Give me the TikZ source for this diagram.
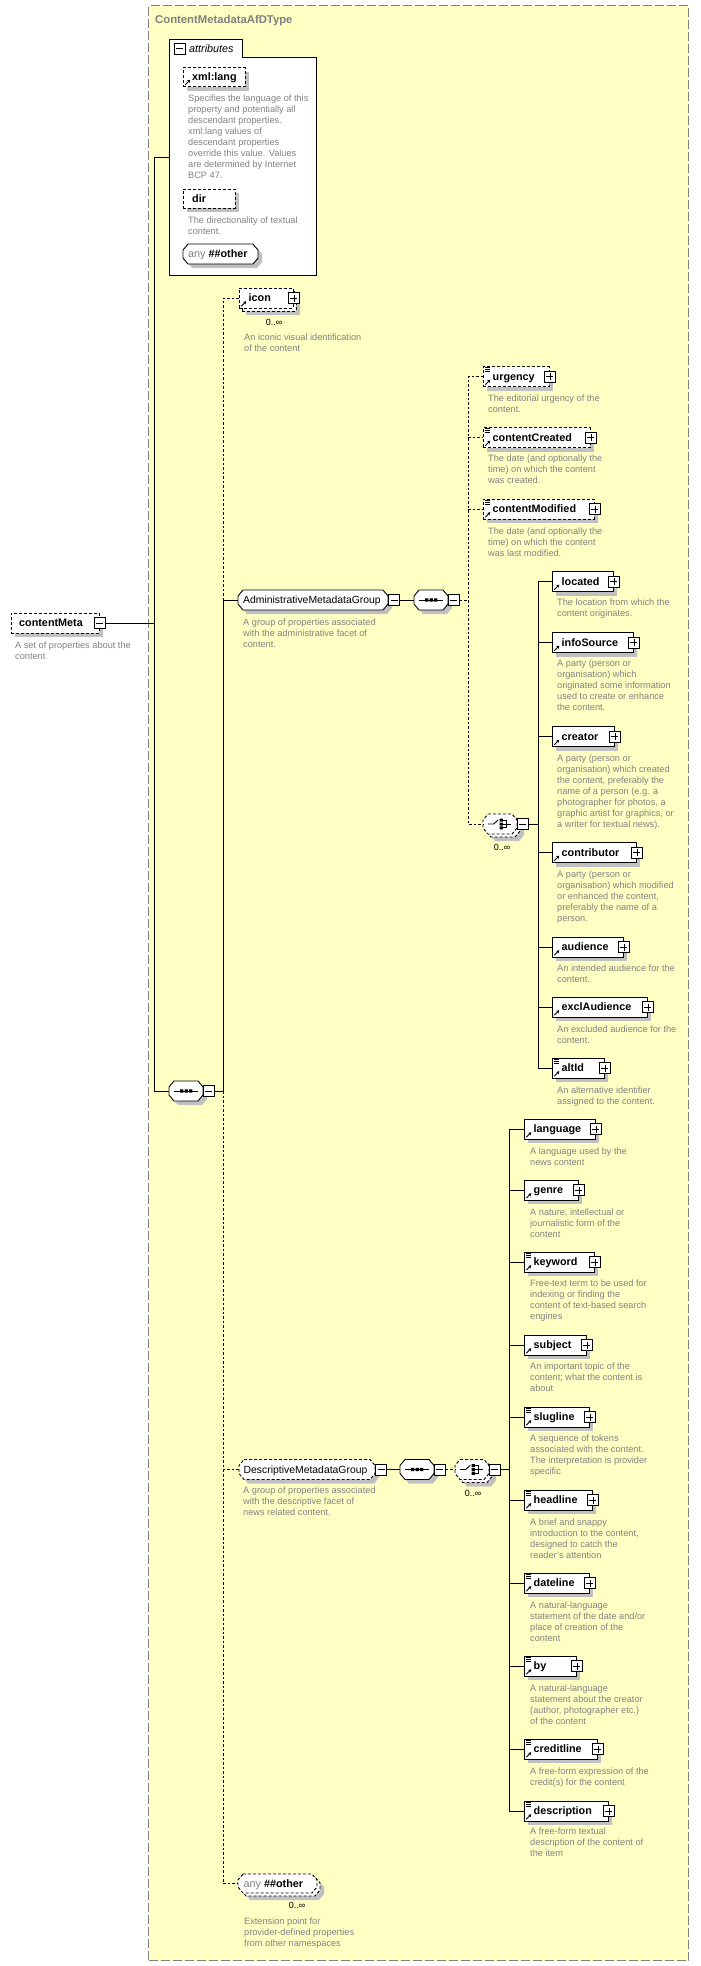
\documentclass[tikz,border=0pt]{standalone}
\usepackage{fontspec}
\setmainfont{Liberation Sans}
\usetikzlibrary{shadows,arrows.meta,calc}
\definecolor{bgY}{RGB}{255,255,196}
\definecolor{dgr}{RGB}{128,128,128}
\definecolor{shd}{RGB}{192,192,192}
\definecolor{tgr}{RGB}{130,130,130}
\newcommand{\refarrow}{\draw[solid,line width=.9pt,-{Stealth[length=3pt,width=3.4pt]}] ([shift={(1.8pt,1.8pt)}]path picture bounding box.south west) -- ++(5pt,5pt);}
\newcommand{\simplines}{\draw[solid,line width=.7pt] ([shift={(1.5pt,-1.3pt)}]path picture bounding box.north west) -- ++(5.5pt,0pt) ([shift={(1.5pt,-3.3pt)}]path picture bounding box.north west) -- ++(5.5pt,0pt) ([shift={(1.5pt,-5.3pt)}]path picture bounding box.north west) -- ++(5.5pt,0pt);}
\tikzset{
  sh/.style={drop shadow={shadow xshift=4pt,shadow yshift=-4pt,fill=shd,opacity=1}},
  opt/.style={dash pattern=on 3pt off 2pt},
  elbox/.style={draw,fill=white,line width=.9pt,minimum height=20pt,inner sep=0pt,anchor=west},
  arr/.style={path picture={\refarrow}},
  arrs/.style={path picture={\refarrow\simplines}},
  pmb/.style={draw,solid,line width=1pt,fill=white,minimum size=11pt,inner sep=0pt,shape=rectangle},
  pmplus/.style={pmb,path picture={\draw[line width=.8pt] ([xshift=-3.5pt]path picture bounding box.center) -- ([xshift=3.5pt]path picture bounding box.center) ([yshift=-3.5pt]path picture bounding box.center) -- ([yshift=3.5pt]path picture bounding box.center);}},
  pmminus/.style={pmb,path picture={\draw[line width=.8pt] ([xshift=-3.5pt]path picture bounding box.center) -- ([xshift=3.5pt]path picture bounding box.center);}},
  octs/.style={draw,fill=white,line width=.9pt},
  lbl/.style={font=\fontsize{10.8}{13}\selectfont\bfseries,anchor=base west,inner sep=0pt},
  glbl/.style={font=\fontsize{10.4}{13}\selectfont,anchor=base west,inner sep=0pt},
  desc/.style={font=\fontsize{9.2}{11}\selectfont,text=tgr,align=left,anchor=north west,inner sep=0pt,yshift=5.5pt},
  occ/.style={font=\fontsize{9}{11}\selectfont,inner sep=0pt},
  con/.style={line width=.9pt},
  dcon/.style={line width=.9pt,dash pattern=on 2.5pt off 2pt},
}
% element box with label and plus box
\newcommand{\mkel}[6]{%
  \node[elbox,sh,#2,minimum width=#5pt] (#1) at (#3,#4) {};
  \node[lbl] (#1-l) at ([shift={(9.5,3.8)}]#1.west) {#6};
  \node[pmplus] (#1-p) at (#1.east) {};}
% chamfered (octagonal) shape with an invisible node of the same size
\newcommand{\octo}[6]{%
  \path[octs,#2] ({#3+5},{#4-#6/2}) -- ({#3+#5-5},{#4-#6/2}) -- ({#3+#5},{#4-#6/2+6}) -- ({#3+#5},{#4+#6/2-6}) -- ({#3+#5-5},{#4+#6/2}) -- ({#3+5},{#4+#6/2}) -- (#3,{#4+#6/2-6}) -- (#3,{#4-#6/2+6}) -- cycle;
  \node[anchor=west,minimum width=#5pt,minimum height=#6pt,inner sep=0pt] (#1) at (#3,#4) {};}
\newcommand{\seqsym}[1]{\begin{scope}[shift={(#1.center)}]
  \draw[line width=.9pt] (-12,0) -- (12,0);
  \fill (-6.2,-1.7) rectangle (-2.8,1.7) (-1.7,-1.7) rectangle (1.7,1.7) (2.8,-1.7) rectangle (6.2,1.7);
  \end{scope}}
\newcommand{\chosym}[1]{\begin{scope}[shift={(#1.center)}]
  \draw[line width=.9pt] (-12,0) -- (-6.5,0) -- (-2,-4.2);
  \fill (-0.5,-5.3) rectangle (2.6,-2.4) (-0.5,-1.5) rectangle (2.6,1.5) (-0.5,2.4) rectangle (2.6,5.3);
  \draw[line width=.9pt] (2.6,-3.8) -- (6.5,-3.8) -- (6.5,3.8) -- (2.6,3.8) (2.6,0) -- (11,0);
  \end{scope}}
\newcommand{\mkdesc}[4]{\node[desc] (#1) at (#2,#3) {\strut #4};}
\begin{document}
\begin{tikzpicture}[x=1pt,y=-1pt]
\useasboundingbox (0,0) rectangle (701,1966);
\fill[white] (0,0) rectangle (701,1966);
% complex type box
\node[draw=dgr,fill=bgY,line width=1pt,dash pattern=on 9pt off 3pt,minimum width=540pt,minimum height=1955pt,anchor=north west,inner sep=0pt] (type) at (148,5) {};
\node[font=\fontsize{11.3}{13}\selectfont\bfseries,text=dgr,anchor=base west,inner sep=0pt] (title) at (155,23) {ContentMetadataAfDType};
% attributes
\node[draw,fill=white,line width=.9pt,minimum width=147pt,minimum height=218pt,anchor=north west,inner sep=0pt] (attrs) at (169,57) {};
\node[draw,fill=white,line width=.9pt,minimum width=73pt,minimum height=18pt,anchor=north west,inner sep=0pt] (attrtab) at (169,39) {};
\draw[white,line width=1.4pt] ([xshift=.7pt]attrtab.south west) -- ([xshift=-.7pt]attrtab.south east);
\node[pmminus] (attrtab-p) at (179.5,48.5) {};
\node[font=\fontsize{10.8}{13}\selectfont\itshape,anchor=base west,inner sep=0pt] (attrtab-l) at (189,52.5) {attributes};
\node[elbox,sh,opt,arr,minimum width=62pt,minimum height=19pt] (xl) at (183,77) {};
\node[lbl] (xl-l) at ([shift={(9,3.8)}]xl.west) {xml:lang};
\mkdesc{xl-d}{188}{99}{Specifies the language of this\\property and potentially all\\descendant properties.\\xml:lang values of\\descendant properties\\override this value. Values\\are determined by Internet\\BCP 47.}
\node[elbox,sh,opt,minimum width=52pt,minimum height=19pt] (dir) at (183,198.5) {};
\node[lbl] (dir-l) at ([shift={(9,3.8)}]dir.west) {dir};
\mkdesc{dir-d}{188}{221}{The directionality of textual\\content.}
\octo{aany}{sh}{183}{254}{75}{20}
\node[anchor=base west,inner sep=0pt,font=\fontsize{10.8}{13}\selectfont] (aany-l) at ([shift={(5,3.8)}]aany.west) {\textcolor{dgr}{any} \textbf{\#\#other}};
% root element
\node[elbox,sh,opt,minimum width=88pt] (cm) at (11,623) {};
\node[lbl] (cm-l) at ([shift={(8,3.8)}]cm.west) {contentMeta};
\node[pmminus] (cm-p) at (cm.east) {};
\mkdesc{cm-d}{15}{646}{A set of properties about the\\content}
% main sequence
\octo{seq1}{sh}{169}{1091}{34}{20}
\seqsym{seq1}
\node[pmminus] (seq1-p) at ([xshift=5.5pt]seq1.east) {};
% icon (repeatable: stacked box)
\node[elbox,sh,opt,minimum width=54pt] (icon-b) at (242,301) {};
\node[elbox,opt,arr,minimum width=54pt] (icon) at (239,298) {};
\node[lbl] (icon-l) at ([shift={(9.5,3.8)}]icon.west) {icon};
\node[pmplus] (icon-p) at (icon.east) {};
\node[occ] (icon-o) at (274,322) {0..∞};
\mkdesc{icon-d}{244}{338}{An iconic visual identification\\of the content}
% administrative group
\octo{adm}{sh}{238}{600}{150}{20}
\node[glbl] (adm-l) at ([shift={(5,3.8)}]adm.west) {AdministrativeMetadataGroup};
\node[pmminus] (adm-p) at ([xshift=6pt]adm.east) {};
\mkdesc{adm-d}{243}{623}{A group of properties associated\\with the administrative facet of\\content.}
\octo{seq2}{sh}{414}{600}{34}{20}
\seqsym{seq2}
\node[pmminus] (seq2-p) at ([xshift=5.5pt]seq2.east) {};
\mkel{urg}{opt,arrs}{483}{376.5}{66}{urgency}
\mkdesc{urg-d}{488}{399}{The editorial urgency of the\\content.}
\mkel{crt}{opt,arrs}{483}{437.5}{107}{contentCreated}
\mkdesc{crt-d}{488}{459}{The date (and optionally the\\time) on which the content\\was created.}
\mkel{mod}{opt,arrs}{483}{509}{111}{contentModified}
\mkdesc{mod-d}{488}{532}{The date (and optionally the\\time) on which the content\\was last modified.}
\octo{ch1-b}{sh,opt}{486}{827}{34}{20}
\octo{ch1}{opt}{483}{824}{34}{20}
\chosym{ch1}
\node[pmminus] (ch1-p) at ([xshift=5.5pt]ch1.east) {};
\node[occ] (ch1-o) at (502,847) {0..∞};
\mkel{loc}{arr}{552}{581.5}{61}{located}
\mkdesc{loc-d}{557}{603}{The location from which the\\content originates.}
\mkel{inf}{arr}{552}{642.5}{81}{infoSource}
\mkdesc{inf-d}{557}{664}{A party (person or\\organisation) which\\originated some information\\used to create or enhance\\the content.}
\mkel{cre}{arr}{552}{736.5}{62}{creator}
\mkdesc{cre-d}{557}{759}{A party (person or\\organisation) which created\\the content, preferably the\\name of a person (e.g. a\\photographer for photos, a\\graphic artist for graphics, or\\a writer for textual news).}
\mkel{con}{arr}{552}{852.5}{84}{contributor}
\mkdesc{con-d}{557}{875}{A party (person or\\organisation) which modified\\or enhanced the content,\\preferably the name of a\\person.}
\mkel{aud}{arr}{552}{947}{71}{audience}
\mkdesc{aud-d}{557}{969}{An intended audience for the\\content.}
\mkel{exa}{arr}{552}{1007}{95}{exclAudience}
\mkdesc{exa-d}{557}{1030}{An excluded audience for the\\content.}
\mkel{alt}{arrs}{552}{1068}{52}{altId}
\mkdesc{alt-d}{557}{1091}{An alternative identifier\\assigned to the content.}
% descriptive group
\octo{dsc}{sh,opt}{239}{1469.5}{136}{20}
\node[glbl] (dsc-l) at ([shift={(4.5,3.8)}]dsc.west) {DescriptiveMetadataGroup};
\node[pmminus] (dsc-p) at ([xshift=6pt]dsc.east) {};
\mkdesc{dsc-d}{243}{1491}{A group of properties associated\\with the descriptive facet of\\news related content.}
\octo{seq3}{sh}{400}{1469.5}{34}{20}
\seqsym{seq3}
\node[pmminus] (seq3-p) at ([xshift=5.5pt]seq3.east) {};
\octo{ch2-b}{sh,opt}{458}{1472.5}{34}{20}
\octo{ch2}{opt}{455}{1469.5}{34}{20}
\chosym{ch2}
\node[pmminus] (ch2-p) at ([xshift=5.5pt]ch2.east) {};
\node[occ] (ch2-o) at (473,1493) {0..∞};
\mkel{lan}{arr}{524}{1129}{71}{language}
\mkdesc{lan-d}{530}{1152}{A language used by the\\news content}
\mkel{gen}{arr}{524}{1190}{54}{genre}
\mkdesc{gen-d}{530}{1213}{A nature, intellectual or\\journalistic form of the\\content}
\mkel{key}{arrs}{524}{1262}{70}{keyword}
\mkdesc{key-d}{530}{1284}{Free-text term to be used for\\indexing or finding the\\content of text-based search\\engines}
\mkel{sub}{arr}{524}{1345}{62}{subject}
\mkdesc{sub-d}{530}{1367}{An important topic of the\\content; what the content is\\about}
\mkel{slu}{arrs}{524}{1417}{65}{slugline}
\mkdesc{slu-d}{530}{1439}{A sequence of tokens\\associated with the content.\\The interpretation is provider\\specific}
\mkel{hea}{arrs}{524}{1500}{68}{headline}
\mkdesc{hea-d}{530}{1523}{A brief and snappy\\introduction to the content,\\designed to catch the\\reader's attention}
\mkel{dat}{arrs}{524}{1583}{65}{dateline}
\mkdesc{dat-d}{530}{1606}{A natural-language\\statement of the date and/or\\place of creation of the\\content}
\mkel{byy}{arrs}{524}{1666}{52}{by}
\mkdesc{byy-d}{530}{1689}{A natural-language\\statement about the creator\\(author, photographer etc.)\\of the content}
\mkel{crl}{arrs}{524}{1749}{73}{creditline}
\mkdesc{crl-d}{530}{1772}{A free-form expression of the\\credit(s) for the content}
\mkel{dsn}{arrs}{524}{1811}{84}{description}
\mkdesc{dsn-d}{530}{1832}{A free-form textual\\description of the content of\\the item}
% any other (element wildcard, repeatable)
\octo{any2-b}{sh,opt}{241}{1886.5}{79}{19}
\octo{any2}{opt}{238}{1883.5}{79}{19}
\node[anchor=base west,inner sep=0pt,font=\fontsize{10.8}{13}\selectfont] (any2-l) at ([shift={(5.5,3.8)}]any2.west) {\textcolor{dgr}{any} \textbf{\#\#other}};
\node[occ] (any2-o) at (297,1905) {0..∞};
\mkdesc{any2-d}{244}{1922}{Extension point for\\provider-defined properties\\from other namespaces}
% connectors
\coordinate (jm) at (154,623);
\coordinate (jt) at (154,157);
\coordinate (jb) at (154,1091);
\draw[con] (cm-p.east) -- (jm);
\draw[con] (attrs.west |- jt) -- (jt) -- (jb) -- (seq1.west);
\coordinate (s2i) at (223,298);
\coordinate (s2a) at (223,600);
\coordinate (s2c) at (223,1091);
\coordinate (s2d) at (223,1469.5);
\coordinate (s2e) at (223,1883.5);
\draw[con] (seq1-p.east) -- (s2c) -- (s2a) -- (adm.west);
\draw[dcon] (s2a) -- (s2i) -- (icon.west);
\draw[dcon] (s2c) -- (s2d) -- (dsc.west);
\draw[dcon] (s2d) -- (s2e) -- (any2.west);
\draw[con] (adm-p.east) -- (seq2.west);
\coordinate (s3t) at (468,376.5);
\coordinate (s3m) at (468,600);
\coordinate (s3b) at (468,824);
\draw[dcon] (seq2-p.east) -- (s3m);
\draw[dcon] (urg.west) -- (s3t) -- (s3b) -- (ch1.west);
\draw[dcon] (crt.west -| s3t) -- (crt.west);
\draw[dcon] (mod.west -| s3t) -- (mod.west);
\coordinate (s4t) at (538,581.5);
\coordinate (s4b) at (538,1068);
\draw[con] (ch1-p.east) -- (ch1-p.east -| s4t);
\draw[con] (loc.west) -- (s4t) -- (s4b) -- (alt.west);
\foreach \n in {inf,cre,con,aud,exa} \draw[con] (\n.west -| s4t) -- (\n.west);
\draw[con] (dsc-p.east) -- (seq3.west);
\draw[dcon] (seq3-p.east) -- (ch2.west);
\coordinate (s5t) at (509,1129);
\coordinate (s5b) at (509,1811);
\draw[con] (ch2-p.east) -- (ch2-p.east -| s5t);
\draw[con] (lan.west) -- (s5t) -- (s5b) -- (dsn.west);
\foreach \n in {gen,key,sub,slu,hea,dat,byy,crl} \draw[con] (\n.west -| s5t) -- (\n.west);
\end{tikzpicture}
\end{document}
